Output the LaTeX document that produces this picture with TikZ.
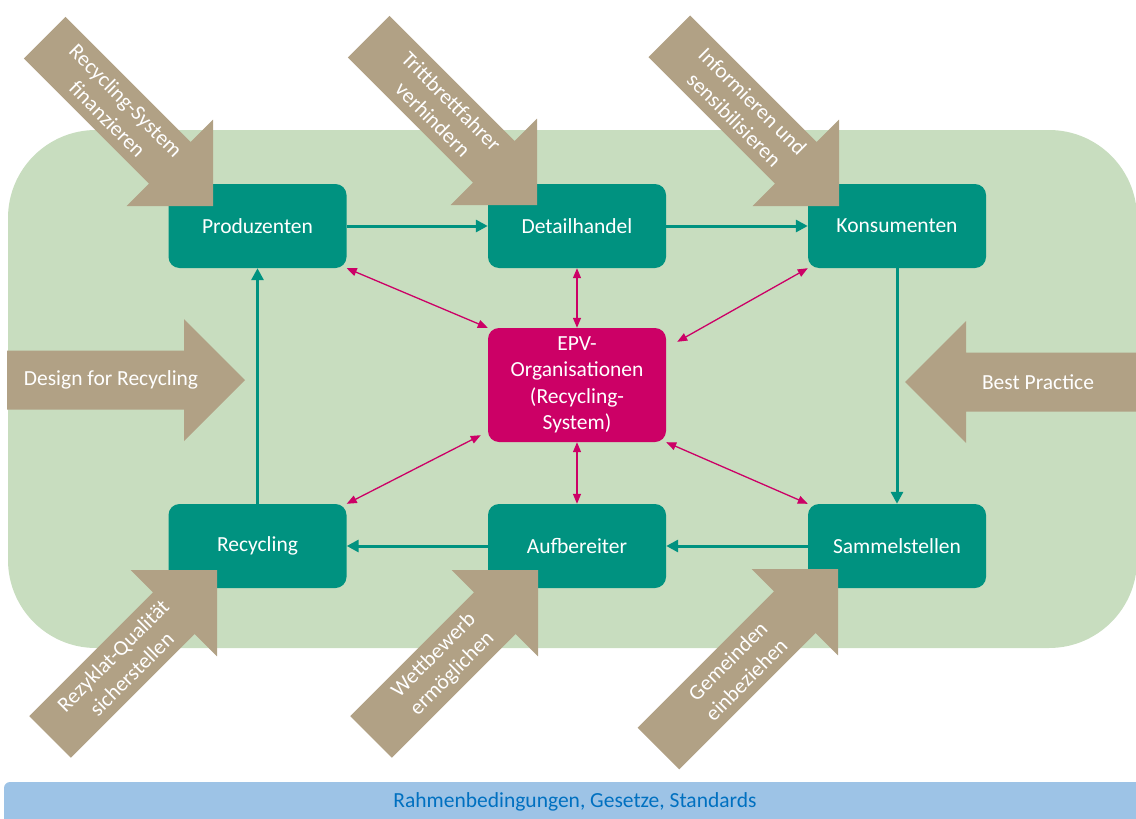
\documentclass[tikz,border=0pt]{standalone}
\usepackage{fontspec}
\setmainfont{Carlito}
\usetikzlibrary{arrows.meta,calc}

\definecolor{teal}{RGB}{0,146,128}
\definecolor{epvred}{RGB}{204,0,102}
\definecolor{tanfill}{RGB}{177,161,133}
\definecolor{fieldgreen}{RGB}{200,221,191}
\definecolor{barblue}{RGB}{157,195,230}
\definecolor{bartext}{RGB}{0,112,192}

\tikzset{
  actor/.style={rectangle, rounded corners=11pt, fill=teal, text=white,
    minimum width=178pt, minimum height=84pt, inner sep=0pt,
    font=\fontsize{21.5}{26}\selectfont},
  epvbox/.style={actor, fill=epvred, minimum height=114pt, align=center,
    font=\fontsize{21.5}{26.5}\selectfont},
  flow/.style={draw=teal, line width=3pt, -{Triangle[length=12pt,width=12pt]}},
  link/.style={draw=epvred, line width=1.3pt,
    {Triangle[length=10pt,width=8pt]}-{Triangle[length=10pt,width=8pt]}},
  arrowtext/.style={text=white, align=center, inner sep=0pt,
    font=\fontsize{21.5}{26}\selectfont},
}

% block arrow with its tip at the origin, pointing along +x
\newcommand\blockarrow[1]{%
  \fill[tanfill] (0,0) -- (-61,-61) -- (-61,-29.5) -- (-#1,-29.5)
    -- (-#1,29.5) -- (-61,29.5) -- (-61,61) -- cycle;}

\begin{document}
\begin{tikzpicture}[x=1pt,y=-1pt]
\useasboundingbox (0,0) rectangle (1136,819);
\clip (0,0) rectangle (1136,819);

% field of actors
\fill[fieldgreen] (8,130) [rounded corners=88pt] rectangle (1137,648);

% framework bar
\fill[barblue] (4,782) [rounded corners=6pt] rectangle (1145,830);
\node[text=bartext, font=\fontsize{21.5}{26}\selectfont] (frame) at (575,802)
  {Rahmenbedingungen, Gesetze, Standards};

% actors
\node[actor] (prod) at (257.5,226) {Produzenten};
\node[actor] (detail) at (577,226) {Detailhandel};
\node[actor] (kons) at (897,226) {Konsumenten};
\node[actor] (recyc) at (257.5,546) {Recycling};
\node[actor] (aufb) at (577,546) {Aufbereiter};
\node[actor] (sammel) at (897,546) {Sammelstellen};
\node[epvbox] (epv) at (577,385) {EPV-\\Organisationen\\(Recycling-\\System)};

% material flow
\draw[flow] (prod) -- (detail);
\draw[flow] (detail) -- (kons);
\draw[flow] (kons) -- (sammel);
\draw[flow] (sammel) -- (aufb);
\draw[flow] (aufb) -- (recyc);
\draw[flow] (recyc) -- (prod);

% links to the EPV organisations
\coordinate (epvne) at ($(epv.north east)+(11,14)$);
\coordinate (epvsw) at ($(epv.south west)+(-7,-7)$);
\draw[link] (prod.south east) -- (epv.north west);
\draw[link] (detail.south) -- (epv.north);
\draw[link] (epvne) -- (kons.south west);
\draw[link] (epvsw) -- (recyc.north east);
\draw[link] (epv.south) -- (aufb.north);
\draw[link] (epv.south east) -- (sammel.north west);

% policy levers, top row
\begin{scope}[shift={(213,206)},rotate=-45]
  \blockarrow{238}
  \node[arrowtext,transform shape] (t1) at (-136,0) {Recycling-System\\finanzieren};
\end{scope}
\begin{scope}[shift={(537,205)},rotate=-45]
  \blockarrow{238}
  \node[arrowtext,transform shape] (t2) at (-134,0) {Trittbrettfahrer\\verhindern};
\end{scope}
\begin{scope}[shift={(839,206)},rotate=-45]
  \blockarrow{240}
  \node[arrowtext,transform shape] (t3) at (-135,0) {Informieren und\\sensibilisieren};
\end{scope}

% policy levers, bottom row
\begin{scope}[shift={(217,570)},rotate=45]
  \blockarrow{236}
  \node[arrowtext,transform shape] (b1) at (-134,0) {Rezyklat-Qualität\\sicherstellen};
\end{scope}
\begin{scope}[shift={(538,570)},rotate=45]
  \blockarrow{236}
  \node[arrowtext,transform shape] (b2) at (-134,0) {Wettbewerb\\ermöglichen};
\end{scope}
\begin{scope}[shift={(838,569)},rotate=45]
  \blockarrow{254}
  \node[arrowtext,transform shape] (b3) at (-143,0) {Gemeinden\\einbeziehen};
\end{scope}

% policy levers, sides
\begin{scope}[shift={(245,380)}]
  \blockarrow{238}
  \node[arrowtext] (l1) at (-134,0) {Design for Recycling};
\end{scope}
\begin{scope}[shift={(905,382)},rotate=180]
  \blockarrow{245}
\end{scope}
\node[arrowtext] (r1) at (1038,382) {Best Practice};
\end{tikzpicture}
\end{document}
